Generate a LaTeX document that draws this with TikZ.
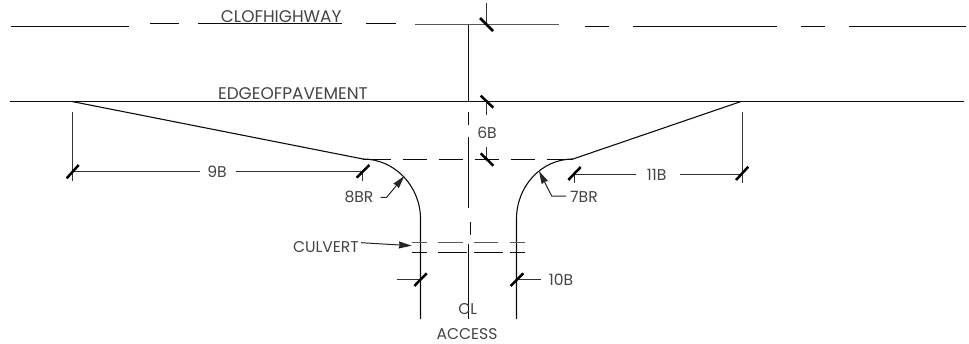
\documentclass[tikz,border=0pt]{standalone}
\usepackage{fontspec}
\setmainfont{Poppins}
\usetikzlibrary{arrows.meta}
\definecolor{ink}{HTML}{0C0C0C}
\definecolor{txt}{HTML}{444444}
\tikzset{
  road/.style={draw=ink,line width=1.1pt},
  grayline/.style={draw=black!65,line width=1.2pt},
  thin line/.style={draw=ink,line width=1.1pt},
  dim/.style={draw=black!80,line width=1pt},
  tick/.style={draw=black,line width=2.5pt},
  lab/.style={inner sep=0pt,text=txt,font=\fontsize{15.6pt}{17pt}\selectfont},
  bigl/.style={lab,font=\fontsize{16.9pt}{18pt}\selectfont},
  lead/.style={draw=black!85,line width=1pt,-{Stealth[length=13pt,width=7pt,inset=1pt]}}
}
\begin{document}
\begin{tikzpicture}[x=1pt,y=-1pt]
\useasboundingbox (0,0) rectangle (969,343);
% centre line of highway
\draw[road] (11,26.5)--(129,26.5) (150,23.5)--(179,23.5) (198,23.5)--(342,23.5) (366,23.5)--(396,23.5);
\draw[grayline] (415,24.5)--(559,24.5);
\draw[road] (585,26.5)--(609,26.5) (633,26.5)--(777,26.5) (801,26.5)--(825,26.5) (849,26.5)--(966,26.5);
% edge of pavement
\draw[road] (10,101.5)--(964,101.5);
% access centre line
\draw[thin line] (468.5,25)--(468.5,101) (468.5,112)--(468.5,125) (468.5,137)--(468.5,208) (470.5,222)--(470.5,235) (468.5,244)--(468.5,319);
% tapers and radii
\draw[road] (72,101.5)--(363,159) .. controls (394.5,159) and (420.5,186) .. (420.5,219) -- (420.5,319);
\draw[road] (741,101.5)--(573,159) .. controls (541.5,159) and (516.5,186) .. (516.5,219) -- (516.5,319);
% throat dashes
\draw[road] (363,159.5)--(390.7,159.5) (402.7,159.5)--(426.7,159.5) (438.7,159.5)--(462.7,159.5) (474.7,159.5)--(498.7,159.5) (510.7,159.5)--(534.7,159.5) (546.7,159.5)--(573,159.5);
% culvert
\draw[grayline,line width=1pt] (412.3,242.5)--(426.7,242.5) (438.3,242.5)--(462.7,242.5) (474,242.5)--(498.3,242.5) (510,242.5)--(525,242.5);
\draw[road] (412.3,252.5)--(426.7,252.5) (438,252.5)--(466.7,252.5) (474,252.5)--(502.7,252.5) (510,252.5)--(525,252.5);
% labels
\node[bigl] (cl) at (281.2,16.5) {CLOFHIGHWAY};
\node[bigl] (edge) at (293,93.5) {EDGEOFPAVEMENT};
\node[lab] (six) at (487,133) {6B};
\node[lab] (nine) at (217,171.5) {9B};
\node[lab] (eleven) at (656.7,174.5) {11B};
\node[lab] (eightr) at (359,197.3) {8BR};
\node[lab] (sevenr) at (584,196.5) {7BR};
\node[lab] (culv) at (326,246.7) {CULVERT};
\node[lab] (ten) at (561,280) {10B};
\node[lab] (clmark) at (467.7,309) {CL};
\node[lab] (access) at (467,334) {ACCESS};
% dimension 6B
\draw[dim] (486.5,3)--(486.5,25) (486.5,101.5)--(486.5,115) (486.5,147)--(486.5,159);
\draw[tick] (480,18)--(493,31) (480.7,95.7)--(493.3,107.7) (480.7,153.3)--(493.3,165.7);
% dimension 9B
\draw[dim] (72.5,111.7)--(72.5,180.7) (72.5,171.5)--(200,171.5) (236,171.5)--(362.5,171.5) (362.5,171.5)--(362.5,180.7);
\draw[tick] (66.7,178.3)--(78.7,165) (356.7,177.7)--(369.3,165);
% dimension 11B
\draw[dim] (742,111.7)--(742,183) (680,174.5)--(742,174.5) (574,174.5)--(636,174.5) (574,174.5)--(574,183);
\draw[tick] (736,180)--(748.3,166.7) (568.3,180)--(580.7,167);
% dimension 10B
\draw[dim] (396.7,279.5)--(420,279.5) (517,279.5)--(540.7,279.5);
\draw[tick] (414.3,286)--(426.7,273.3) (510.7,286)--(523.3,273.3);
% leaders
\coordinate (t8) at (404.3,176);
\coordinate (t7) at (539,171);
\coordinate (tc) at (411.7,245.7);
\draw[lead] (380.7,197.3)--(386.7,197.3)--(t8);
\draw[lead] (566,196)--(551.7,196)--(t7);
\draw[lead] (culv.east)++(2,-4)--(tc);
\end{tikzpicture}
\end{document}
